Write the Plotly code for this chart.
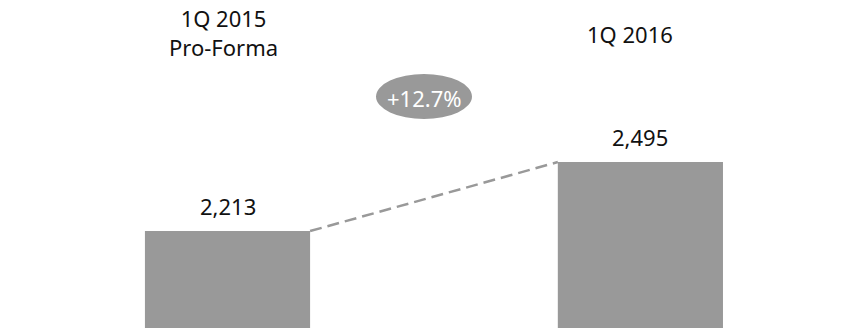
import plotly.graph_objects as go

# Quarterly totals
periods = ["1Q 2015<br>Pro-Forma", "1Q 2016"]
values = [2213, 2495]

bar_color = "#999999"
font_family = "'Noto Sans', sans-serif"
x_pos = [0, 1]
bar_width = 0.4

fig = go.Figure()

fig.add_trace(go.Bar(
    x=x_pos, y=values, width=bar_width,
    marker=dict(color=bar_color, line=dict(width=0)),
    hoverinfo="skip",
))

# Dashed connector from top-right of the first bar to top-left of the second
fig.add_trace(go.Scatter(
    x=[x_pos[0] + bar_width / 2, x_pos[1] - bar_width / 2],
    y=values,
    mode="lines",
    line=dict(color=bar_color, width=2.5, dash="12px,6px"),
    hoverinfo="skip",
))

annotations = []
# Value labels above each bar
for xv, v in zip(x_pos, values):
    annotations.append(dict(
        x=xv, y=v, xref="x", yref="y", text=f"{v:,}",
        showarrow=False, xanchor="center", yanchor="bottom", yshift=8,
        font=dict(family=font_family, size=22, color="#111111"),
    ))

# Period headers
header_rows = [33, 34]
header_shift = [-4, -10]
for xv, label, row, sh in zip(x_pos, periods, header_rows, header_shift):
    annotations.append(dict(
        x=xv, y=1 - row / 328, xref="x", yref="paper", text=label,
        showarrow=False, xanchor="center", yanchor="middle", xshift=sh,
        font=dict(family=font_family, size=22, color="#111111"),
    ))

# Growth badge
growth = values[1] / values[0] - 1
annotations.append(dict(
    x=424 / 858, y=1 - 98 / 328, xref="paper", yref="paper",
    xanchor="center", yanchor="middle",
    text=f"+{growth * 100:.1f}%", showarrow=False,
    font=dict(family=font_family, size=22, color="#ffffff"),
))

fig.add_shape(
    type="circle", xref="paper", yref="paper",
    x0=376 / 858, x1=472 / 858, y0=1 - 119 / 328, y1=1 - 74 / 328,
    fillcolor=bar_color, line=dict(width=0), layer="below",
)

fig.update_layout(
    width=858, height=328,
    margin=dict(l=0, r=0, t=0, b=0),
    paper_bgcolor="white", plot_bgcolor="white",
    showlegend=False,
    annotations=annotations,
    xaxis=dict(range=[-0.551, 1.527], visible=False, fixedrange=True),
    yaxis=dict(range=[1817, 3157], visible=False, fixedrange=True),
)

fig.write_html("out.html", config={"displayModeBar": False})
